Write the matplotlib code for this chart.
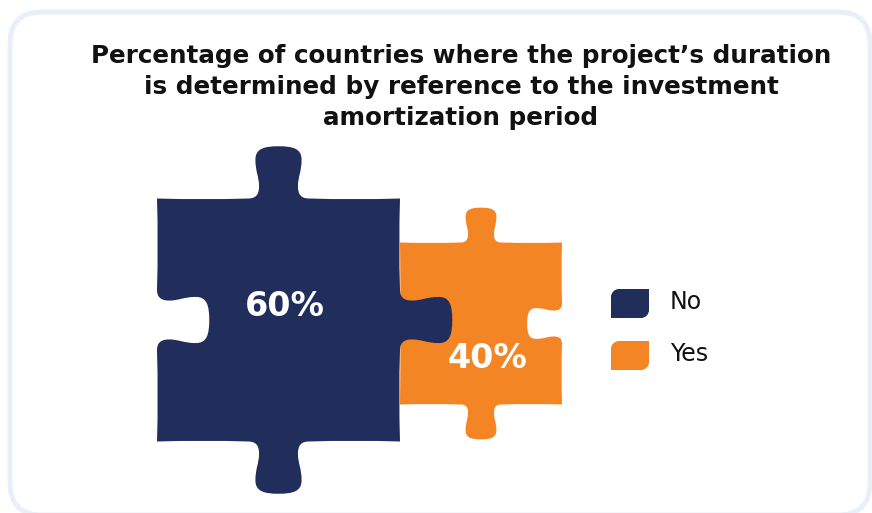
import matplotlib
matplotlib.use("Agg")
import matplotlib.pyplot as plt
from matplotlib.path import Path
from matplotlib.patches import PathPatch, FancyBboxPatch

# ---- data ----
categories = ["No", "Yes"]
values = [60, 40]
value_labels = ["60%", "40%"]
colors = ["#212D5B", "#F48524"]
title = ("Percentage of countries where the project\u2019s duration\n"
         "is determined by reference to the investment\n"
         "amortization period")

# ---- layout (pixel space) ----
W, H = 872, 513
PX_PER_PCT = 4.05          # side length of a piece per percentage point
NAVY_LEFT = 157
CENTER_Y = [320, 323.5]
LABEL_OFFSET = [(6, -13), (6, 35)]

# half of a tab profile in (t along edge, d outward) units of side length
TAB_HALF = [
    ((0.410, 0.000), (0.420, 0.020), (0.420, 0.050)),
    ((0.420, 0.090), (0.405, 0.110), (0.405, 0.160)),
    ((0.405, 0.205), (0.440, 0.215), (0.500, 0.215)),
]


def tab_segments():
    segs = list(TAB_HALF)
    # mirror the half profile to build the second half
    pts = [(0.375, 0.0)]
    for seg in TAB_HALF:
        pts.extend(seg)
    mirrored = [(1 - t, d) for (t, d) in reversed(pts)]
    for i in range(0, len(mirrored) - 1, 3):
        segs.append(tuple(mirrored[i + 1:i + 4]))
    return segs


SEGS = tab_segments()


def piece_path(cx, cy, s, sides):
    """sides: top, right, bottom, left -> +1 tab out, -1 notch in, 0 flat"""
    h = s / 2
    corners = [(cx - h, cy - h), (cx + h, cy - h), (cx + h, cy + h), (cx - h, cy + h)]
    normals = [(0, -1), (1, 0), (0, 1), (-1, 0)]
    bow = -0.006   # edges are very slightly concave
    verts = [corners[0]]
    codes = [Path.MOVETO]
    for k in range(4):
        A = corners[k]
        B = corners[(k + 1) % 4]
        nx, ny = normals[k]
        sign = sides[k]

        def along(t, d):
            return (A[0] + t * (B[0] - A[0]) + d * s * nx,
                    A[1] + t * (B[1] - A[1]) + d * s * ny)

        if sign == 0:
            verts += [along(0.5, bow), B]
            codes += [Path.CURVE3, Path.CURVE3]
            continue
        verts += [along(0.19, bow), along(0.375, 0)]
        codes += [Path.CURVE3, Path.CURVE3]
        for seg in SEGS:
            verts += [along(t, sign * d) for (t, d) in seg]
            codes += [Path.CURVE4] * 3
        verts += [along(0.81, bow), B]
        codes += [Path.CURVE3, Path.CURVE3]
    verts.append(corners[0])
    codes.append(Path.CLOSEPOLY)
    return Path(verts, codes)


fig = plt.figure(figsize=(W / 100, H / 100), dpi=100)
ax = fig.add_axes([0, 0, 1, 1])
ax.set_xlim(0, W)
ax.set_ylim(H, 0)
ax.set_aspect("equal")
ax.axis("off")

# rounded card frame
frame = FancyBboxPatch((10, 12), W - 12, H - 10,
                       boxstyle="round,pad=0,rounding_size=32",
                       facecolor="white", edgecolor="#E8EFF8", linewidth=3.5,
                       zorder=0)
ax.add_patch(frame)

# puzzle pieces
sides_list = [(1, 1, 1, -1), (1, -1, 1, 0)]
left = NAVY_LEFT
for i, (cat, v) in enumerate(zip(categories, values)):
    s = v * PX_PER_PCT
    cx = left + s / 2
    cy = CENTER_Y[i]
    path = piece_path(cx, cy, s, sides_list[i])
    ax.add_patch(PathPatch(path, facecolor=colors[i], edgecolor="none",
                           zorder=3 - i))
    dx, dy = LABEL_OFFSET[i]
    ax.text(cx + dx, cy + dy, value_labels[i], color="white",
            fontsize=24, fontweight="bold", ha="center", va="center",
            family="DejaVu Sans", zorder=5)
    left += s

# title
ax.text(461, 87, title, ha="center", va="center", fontsize=17.7,
        fontweight="bold", color="#111111", linespacing=1.36,
        family="DejaVu Sans")


# legend with leaf-shaped swatches
def leaf(x0, y0, w, h, r):
    k = 0.55
    verts = [(x0 + r, y0), (x0 + w, y0), (x0 + w, y0 + h - r),
             (x0 + w, y0 + h - r + k * r), (x0 + w - r + k * r, y0 + h), (x0 + w - r, y0 + h),
             (x0, y0 + h), (x0, y0 + r),
             (x0, y0 + r - k * r), (x0 + r - k * r, y0), (x0 + r, y0),
             (x0 + r, y0)]
    codes = [Path.MOVETO, Path.LINETO, Path.LINETO,
             Path.CURVE4, Path.CURVE4, Path.CURVE4,
             Path.LINETO, Path.LINETO,
             Path.CURVE4, Path.CURVE4, Path.CURVE4,
             Path.CLOSEPOLY]
    return Path(verts, codes)


for i, cat in enumerate(categories):
    y0 = 289 + i * 52
    ax.add_patch(PathPatch(leaf(611, y0, 38, 29, 8), facecolor=colors[i],
                           edgecolor="none"))
    ax.text(670, y0 + 13, cat, ha="left", va="center", fontsize=17,
            color="#111111", family="DejaVu Sans")

fig.savefig("out.png", dpi=100)
